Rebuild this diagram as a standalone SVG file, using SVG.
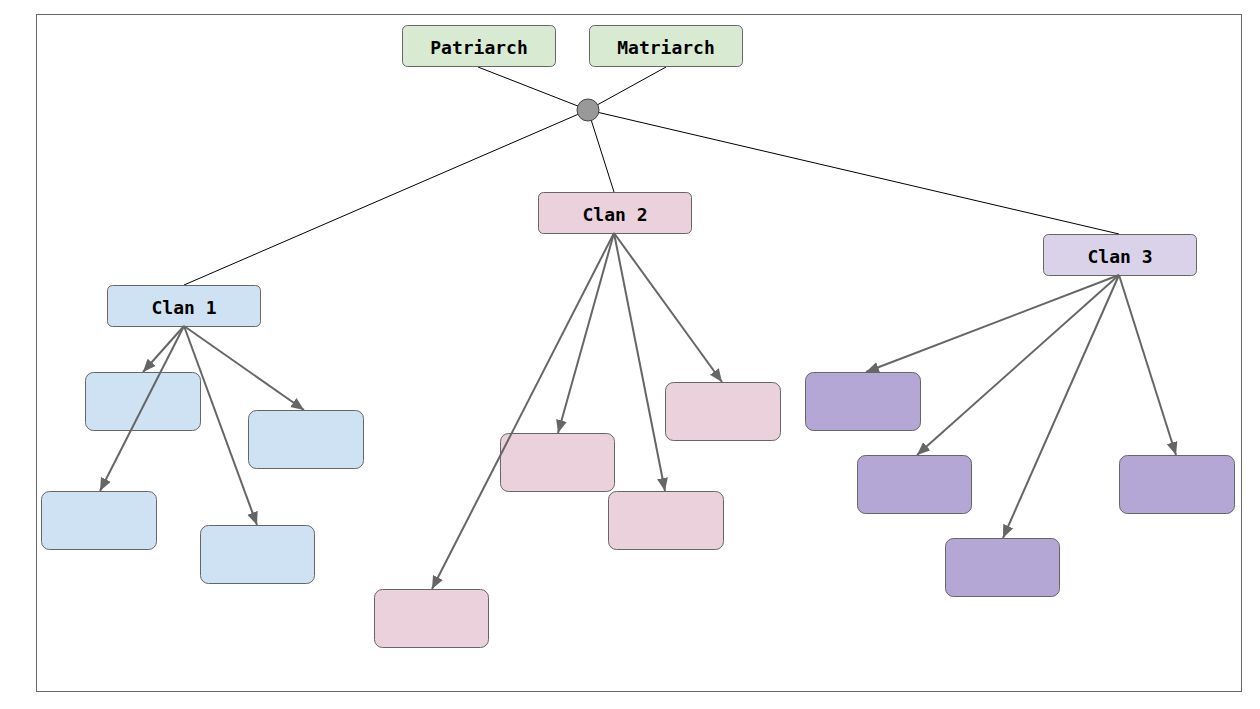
<svg xmlns="http://www.w3.org/2000/svg" width="1260" height="709" viewBox="0 0 1260 709">
<style>
.node{stroke:#666;stroke-width:1}
.g{fill:#d9ead3}.b{fill:#cfe2f3}.p{fill:#ead1dc}.l{fill:#d9d2e9}.v{fill:#b4a7d6}
.t{font-family:"DejaVu Sans Mono","Liberation Mono",monospace;font-weight:bold;font-size:18px;fill:#000;text-anchor:middle}
.thin{stroke:#000;stroke-width:1;fill:none}
.arr{stroke:#666;stroke-width:2;fill:none;marker-end:url(#ah)}
</style>
<defs>
<marker id="ah" markerUnits="userSpaceOnUse" markerWidth="14" markerHeight="12" refX="13" refY="5.5" orient="auto">
<path d="M0,0 L13,5.5 L0,11 Z" fill="#666"/>
</marker>
</defs>
<rect x="0" y="0" width="1260" height="709" fill="#fff"/>
<rect x="36.5" y="14.5" width="1205" height="677" fill="none" stroke="#666" stroke-width="1"/>
<g id="connectors-top">
<line class="thin" x1="478" y1="67" x2="588" y2="110"/>
<line class="thin" x1="666" y1="67" x2="588" y2="110"/>
<line class="thin" x1="588" y1="110" x2="184" y2="285"/>
<line class="thin" x1="588" y1="110" x2="614" y2="192"/>
<line class="thin" x1="588" y1="110" x2="1119" y2="234"/>
</g>
<g id="patriarch"><rect class="node g" x="402.5" y="25.5" width="153" height="41" rx="5"/><text class="t" x="479" y="54">Patriarch</text></g>
<g id="matriarch"><rect class="node g" x="589.5" y="25.5" width="153" height="41" rx="5"/><text class="t" x="666" y="54">Matriarch</text></g>
<g id="junction"><circle cx="588" cy="110" r="11" fill="#999" stroke="#434343" stroke-width="1"/></g>
<g id="clan1"><rect class="node b" x="107.5" y="285.5" width="153" height="41" rx="5"/><text class="t" x="184" y="314">Clan 1</text></g>
<g id="clan2"><rect class="node p" x="538.5" y="192.5" width="153" height="41" rx="5"/><text class="t" x="615" y="221">Clan 2</text></g>
<g id="clan3"><rect class="node l" x="1043.5" y="234.5" width="153" height="41" rx="5"/><text class="t" x="1120" y="263">Clan 3</text></g>
<g id="c1a"><rect class="node b" x="85.5" y="372.5" width="115" height="58" rx="8"/></g>
<g id="c1b"><rect class="node b" x="248.5" y="410.5" width="115" height="58" rx="8"/></g>
<g id="c1c"><rect class="node b" x="41.5" y="491.5" width="115" height="58" rx="8"/></g>
<g id="c1d"><rect class="node b" x="200.5" y="525.5" width="114" height="58" rx="8"/></g>
<g id="c2a"><rect class="node p" x="500.5" y="433.5" width="114" height="58" rx="8"/></g>
<g id="c2b"><rect class="node p" x="374.5" y="589.5" width="114" height="58" rx="8"/></g>
<g id="c2c"><rect class="node p" x="608.5" y="491.5" width="115" height="58" rx="8"/></g>
<g id="c2d"><rect class="node p" x="665.5" y="382.5" width="115" height="58" rx="8"/></g>
<g id="c3a"><rect class="node v" x="805.5" y="372.5" width="115" height="58" rx="8"/></g>
<g id="c3b"><rect class="node v" x="857.5" y="455.5" width="114" height="58" rx="8"/></g>
<g id="c3c"><rect class="node v" x="945.5" y="538.5" width="114" height="58" rx="8"/></g>
<g id="c3d"><rect class="node v" x="1119.5" y="455.5" width="115" height="58" rx="8"/></g>
<g id="connectors">
<line class="arr" x1="184" y1="326" x2="143" y2="372"/>
<line class="arr" x1="184" y1="326" x2="304" y2="410"/>
<line class="arr" x1="184" y1="326" x2="100" y2="491"/>
<line class="arr" x1="184" y1="326" x2="257" y2="525"/>
<line class="arr" x1="614" y1="233" x2="558" y2="433"/>
<line class="arr" x1="614" y1="233" x2="432" y2="589"/>
<line class="arr" x1="614" y1="233" x2="665" y2="491"/>
<line class="arr" x1="614" y1="233" x2="722" y2="382"/>
<line class="arr" x1="1119" y1="275" x2="866" y2="372"/>
<line class="arr" x1="1119" y1="275" x2="917" y2="455"/>
<line class="arr" x1="1119" y1="275" x2="1003" y2="538"/>
<line class="arr" x1="1119" y1="275" x2="1176" y2="455"/>
</g>
</svg>
